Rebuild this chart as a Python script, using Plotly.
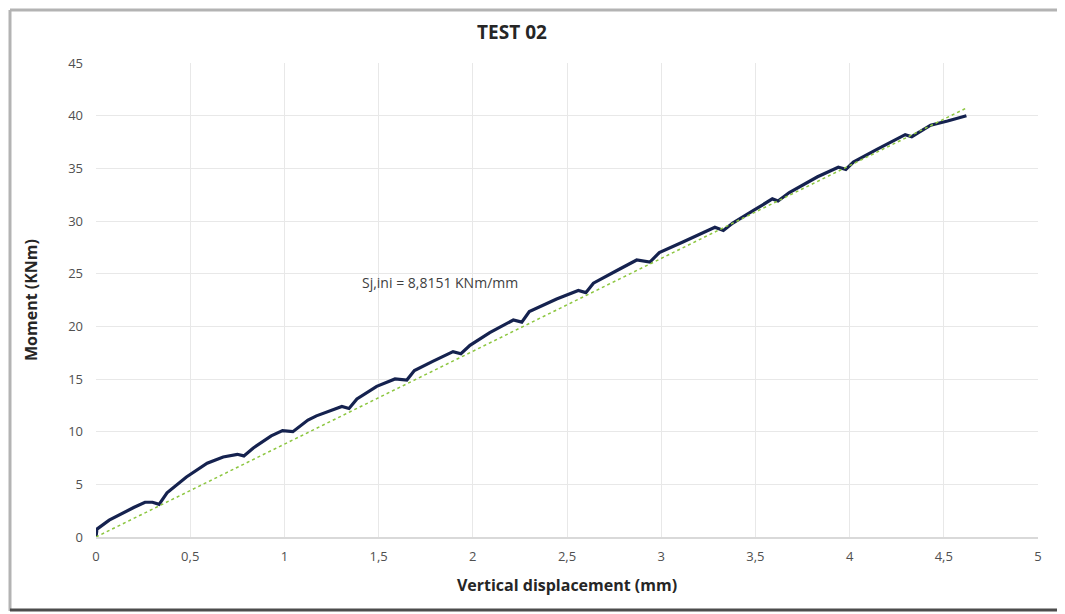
import plotly.graph_objects as go

disp_mm = [0.0, 0.005, 0.07, 0.143, 0.20, 0.26, 0.30, 0.335, 0.377, 0.48, 0.59, 0.675,
           0.75, 0.785, 0.835, 0.93, 0.99, 1.045, 1.125, 1.17, 1.305, 1.343, 1.385,
           1.49, 1.587, 1.65, 1.69, 1.79, 1.895, 1.937, 1.985, 2.09, 2.215, 2.26,
           2.30, 2.445, 2.56, 2.60, 2.64, 2.765, 2.87, 2.94, 2.99, 3.115, 3.285,
           3.33, 3.38, 3.49, 3.59, 3.62, 3.68, 3.83, 3.94, 3.98, 4.02, 4.145,
           4.295, 4.33, 4.43, 4.52, 4.62]
moment_knm = [0.0, 0.75, 1.6, 2.3, 2.8, 3.3, 3.3, 3.1, 4.2, 5.7, 7.0, 7.6,
              7.85, 7.7, 8.45, 9.6, 10.1, 10.0, 11.1, 11.5, 12.4, 12.2, 13.1,
              14.3, 15.0, 14.9, 15.8, 16.7, 17.6, 17.4, 18.2, 19.4, 20.6, 20.4,
              21.4, 22.6, 23.4, 23.2, 24.1, 25.3, 26.3, 26.1, 27.0, 28.0, 29.4,
              29.1, 29.8, 31.0, 32.1, 31.9, 32.7, 34.2, 35.1, 34.9, 35.6, 36.8,
              38.2, 38.0, 39.1, 39.5, 40.0]

# Initial stiffness line  M = Sj,ini * d
sj_ini = 8.8151
trend_x = [0.0, 4.62]
trend_y = [sj_ini * v for v in trend_x]

x_tickvals = [0, 0.5, 1, 1.5, 2, 2.5, 3, 3.5, 4, 4.5, 5]
x_ticktext = ["0", "0,5", "1", "1,5", "2", "2,5", "3", "3,5", "4", "4,5", "5"]
y_tickvals = [0, 5, 10, 15, 20, 25, 30, 35, 40, 45]
y_ticktext = ["0", "5", "10", "15", "20", "25", "30", "35", "40", "45"]

title_text = "TEST 02"
x_title = "Vertical displacement (mm)"
y_title = "Moment (KNm)"
annot_text = "Sj,ini = 8,8151 KNm/mm"

FONT = "Open Sans"
TICK_COLOR = "#505050"

fig = go.Figure()
fig.add_trace(go.Scatter(x=disp_mm, y=moment_knm, mode="lines",
                         line=dict(color="#15224f", width=3.2),
                         showlegend=False, hoverinfo="skip"))
fig.add_trace(go.Scatter(x=trend_x, y=trend_y, mode="lines",
                         line=dict(color="#8cc63f", width=1.5, dash="dot"),
                         showlegend=False, hoverinfo="skip"))

# page body has an 8px margin: the figure is drawn starting at (8, 8)
OFF = 8
W, H = 1065 - OFF, 614 - OFF
L, R, T, B = 96 - OFF, 27, 63 - OFF, 77
pw, ph = W - L - R, H - T - B

def px_x(p):
    return (p - OFF - L) / pw

def px_y(p):
    return (H - B - (p - OFF)) / ph

fig.update_layout(
    width=W, height=H,
    margin=dict(l=L, r=R, t=T, b=B),
    paper_bgcolor="white", plot_bgcolor="white",
    font=dict(family=FONT, color=TICK_COLOR),
    title=dict(text="<b>" + title_text + "</b>", x=(512 - OFF) / W, xanchor="center",
               y=1 - (32 - OFF) / H, yanchor="middle",
               font=dict(size=19, color="#262626", family=FONT)),
    xaxis=dict(range=[0, 5], tickvals=x_tickvals, ticktext=x_ticktext,
               showgrid=True, gridcolor="#e8e8e8", gridwidth=1,
               zeroline=False, showline=True, linecolor="#d9d9d9", linewidth=1.5,
               ticks="", ticklabelstandoff=7,
               tickfont=dict(size=13, color=TICK_COLOR, family=FONT),
               title=dict(text="<b>" + x_title + "</b>", standoff=15,
                          font=dict(size=16, color="#262626", family=FONT))),
    yaxis=dict(range=[0, 45], tickvals=y_tickvals, ticktext=y_ticktext,
               showgrid=True, gridcolor="#e8e8e8", gridwidth=1,
               zeroline=False, showline=False,
               ticks="", ticklabelstandoff=12,
               tickfont=dict(size=13, color=TICK_COLOR, family=FONT),
               title=dict(text="<b>" + y_title + "</b>", standoff=26,
                          font=dict(size=16, color="#262626", family=FONT))),
    annotations=[dict(x=1.826, y=24.2, xref="x", yref="y", text=annot_text,
                      showarrow=False, font=dict(size=14, color="#404040", family=FONT))],
    shapes=[
        dict(type="line", xref="paper", yref="paper", x0=px_x(10), x1=px_x(10),
             y0=px_y(10), y1=px_y(611), line=dict(color="#b3b3b3", width=3)),
        dict(type="line", xref="paper", yref="paper", x0=px_x(10), x1=px_x(1062),
             y0=px_y(10), y1=px_y(10), line=dict(color="#b3b3b3", width=3)),
        dict(type="line", xref="paper", yref="paper", x0=px_x(1062), x1=px_x(1062),
             y0=px_y(10), y1=px_y(611), line=dict(color="#4d4d4d", width=3)),
        dict(type="line", xref="paper", yref="paper", x0=px_x(10), x1=px_x(1062),
             y0=px_y(610), y1=px_y(610), line=dict(color="#4d4d4d", width=3)),
    ],
)

fig.write_html("out.html")
